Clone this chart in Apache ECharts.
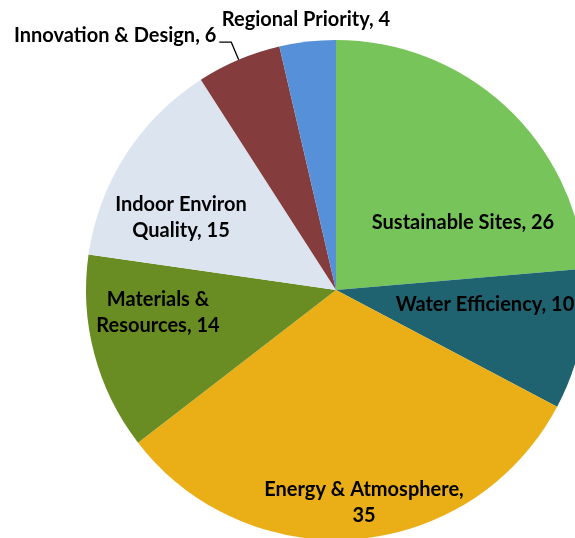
<!DOCTYPE html>
<html>
<head>
<meta charset="utf-8">
<script src="https://cdn.jsdelivr.net/npm/echarts@6/dist/echarts.min.js"></script>
<style>
html,body{margin:0;padding:0;background:#fff;}
#chart{width:575px;height:538px;}
</style>
</head>
<body>
<div id="chart"></div>
<script>
// Data
const categories = ["Sustainable Sites", "Water Efficiency", "Energy & Atmosphere", "Materials & Resources", "Indoor Environ Quality", "Innovation & Design", "Regional Priority"];
const values = [26, 10, 35, 14, 15, 6, 4];
const colors = ["#77C55A", "#1F6270", "#EAAE16", "#6A8D23", "#DCE4F0", "#843C3D", "#5690D8"];

// label text wrapping (text only)
const wrapText = {
  "Energy & Atmosphere": "Energy & Atmosphere,\n{v}",
  "Materials & Resources": "Materials &\nResources, {v}",
  "Indoor Environ Quality": "Indoor Environ\nQuality, {v}",
  "Innovation & Design": "{n|Innovation & Design, {v}}\n{e|}"
};
// label placement (pixels)
const labelPlace = {
  0: [463, 223],
  1: [485, 305],
  2: [364, 503],
  3: [158, 313],
  4: [181, 218],
  6: [306, 20]
};

const chart = echarts.init(document.getElementById('chart'), null, {renderer: 'canvas'});
const data = categories.map((name, i) => {
  const item = { name: name, value: values[i], itemStyle: { color: colors[i] } };
  if (i === 5) {
    item.label = {
      position: 'outside', distanceToLabelLine: 3,
      rich: {
        n: { fontFamily: 'Lato', fontWeight: 'bold', fontSize: 20, lineHeight: 16, color: '#000' },
        e: { fontSize: 20, lineHeight: 14 }
      }
    };
    item.labelLine = { show: true, length: 19, length2: 12, lineStyle: { color: '#000', width: 1.3 } };
  }
  if (i === 6) {
    item.label = { position: 'outside' };
    item.labelLine = { show: false, length: 5, length2: 0 };
  }
  return item;
});

chart.setOption({
  animation: false,
  backgroundColor: '#fff',
  series: [{
    type: 'pie',
    center: [336, 290],
    radius: [0, 250],
    startAngle: 90,
    clockwise: true,
    avoidLabelOverlap: false,
    data: data,
    itemStyle: { borderWidth: 0 },
    label: {
      show: true,
      position: 'inside',
      color: '#000',
      fontFamily: 'Lato',
      fontWeight: 'bold',
      fontSize: 20,
      lineHeight: 26,
      formatter: function (p) {
        const t = wrapText[p.name];
        return t ? t.replace('{v}', p.value) : p.name + ', ' + p.value;
      }
    },
    labelLine: { show: false },
    emphasis: { disabled: true },
    labelLayout: function (p) {
      const pos = labelPlace[p.dataIndex];
      if (!pos) return {};
      return { x: pos[0], y: pos[1], align: 'center', verticalAlign: 'middle' };
    }
  }]
});
</script>
</body>
</html>
